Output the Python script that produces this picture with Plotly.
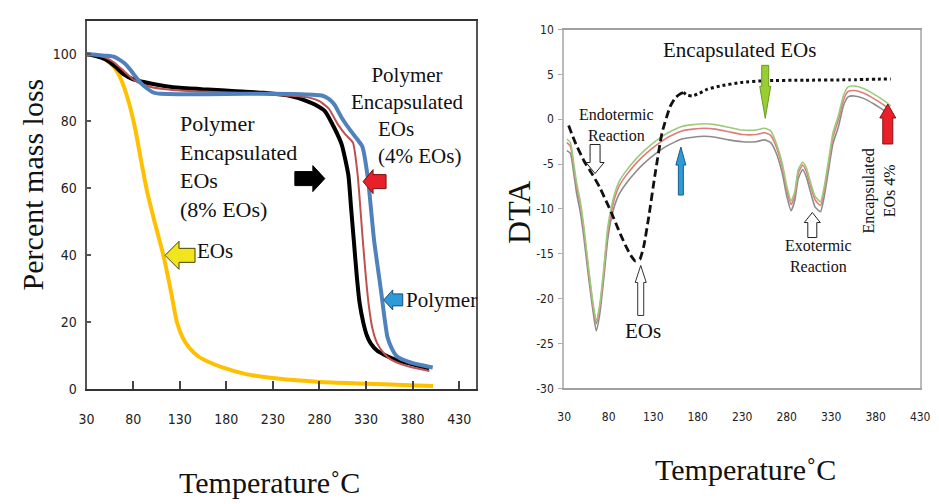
import plotly.graph_objects as go

# The page body adds an 8px margin, so the figure is drawn 8px smaller than the window
W, H = 931, 496
OFF = 8

# ---------------- Left panel (TGA) data ----------------
tga_xticks = [30, 80, 130, 180, 230, 280, 330, 380, 430]
tga_yticks = [0, 20, 40, 60, 80, 100]

eos_T = [30, 40, 50, 60, 67, 75, 82, 88, 95, 103, 112, 120, 127, 133, 140, 150, 160, 175, 200, 235, 280, 330, 370, 402]
eos_v = [100, 99.6, 98.5, 96, 92.5, 86, 78, 69, 59, 50, 40.5, 30, 20, 15.5, 12.5, 9.8, 8.3, 6.6, 4.6, 3.2, 2.2, 1.7, 1.3, 1.0]

enc8_T = [30, 40, 50, 60, 70, 80, 90, 100, 115, 130, 160, 190, 220, 250, 265, 275, 286, 296, 304, 311, 314, 317, 320, 323, 327, 331, 335, 342, 349, 360, 374, 386, 398]
enc8_v = [100, 99.5, 98.5, 96.5, 94, 92.5, 91.8, 91.2, 90.5, 90, 89.5, 89, 88.5, 87.5, 86.2, 85, 83, 78, 73, 64, 54, 44, 34, 26, 20, 16, 13.7, 11.5, 10.4, 9, 7.9, 7.0, 6.2]

enc4_T = [30, 40, 50, 60, 70, 80, 90, 100, 115, 130, 160, 190, 220, 250, 270, 280, 290, 300, 308, 316, 321, 326.5, 330, 333, 337, 342, 349, 356, 370, 385, 398]
enc4_v = [100, 99.7, 99, 97.5, 95, 92.5, 91, 90.2, 89.6, 89.2, 88.8, 88.5, 88.1, 87.6, 87, 86, 83.8, 79, 76, 73.6, 64, 44.6, 33, 25, 18, 13.7, 10.8, 9, 7.3, 6.2, 5.5]

poly_T = [30, 40, 50, 60, 70, 77, 82, 88, 95, 101.6, 110, 130, 160, 200, 230, 260, 282.6, 290, 296, 304, 314, 321, 326, 332, 338.6, 345.8, 353, 358, 363, 375, 390, 401.6]
poly_v = [100, 99.9, 99.6, 99.2, 97.5, 95.4, 93.5, 91.5, 89.8, 88.6, 88.2, 88.1, 88.1, 88.2, 88.2, 88.1, 87.7, 86.7, 85, 81, 77, 74.5, 72.5, 63, 44.6, 30, 15.6, 12, 9.9, 8.3, 7.2, 6.5]

# ---------------- Right panel (DTA) data ----------------
dta_xticks = [30, 80, 130, 180, 230, 280, 330, 380, 430]
dta_yticks = [-30, -25, -20, -15, -10, -5, 0, 5, 10]
dta_yticklabels = ["-30", "-25", "-20", "-15", "-10", "-5", "0", "5", "10"]

eos_dash_T = [35, 42, 52, 62, 70, 77, 83, 88, 94, 99, 105, 110, 115, 119.5, 125, 132, 140, 149, 155, 160, 164]
eos_dash_v = [-0.7, -2.5, -4.6, -6.2, -7.6, -9.1, -10.4, -11.6, -13.0, -14.1, -15.2, -15.8, -15.6, -14.1, -10.9, -6.2, -1.5, 1.4, 2.4, 2.8, 3.0]
eos_dot_T = [164, 168, 174, 182, 191, 205, 228, 257, 300, 350, 397]
eos_dot_v = [3.0, 2.7, 2.6, 2.9, 3.35, 3.7, 4.1, 4.3, 4.35, 4.4, 4.5]

dta_T = [33, 37, 41, 44, 48, 52, 57, 62, 66, 70, 74, 79, 83, 87, 92, 100, 110, 120, 132, 145,
         162, 175, 187, 200, 215, 230, 246, 255, 262, 268, 275, 280, 285, 289, 293, 298, 302, 307, 312, 318,
         322, 327, 332, 338, 344, 349, 356, 367, 378, 389, 397]
dta_red = [-2.6, -3.0, -5.5, -7.5, -9.5, -12.3, -16.6, -20.5, -22.8, -21.0, -17.5, -12.5, -10.3, -8.7, -7.4, -6.2, -5.0, -4.0, -3.0, -2.1,
           -1.3, -1.1, -1.0, -1.1, -1.4, -1.7, -1.7, -1.5, -1.8, -3.0, -5.3, -7.8, -9.5, -8.5, -6.0, -5.1, -5.8, -7.5, -9.0, -9.6,
           -8.0, -5.0, -2.0, -0.1, 2.2, 3.1, 3.2, 2.9, 2.3, 1.6, 1.0]
dta_green = [-2.2, -2.6, -5.1, -7.1, -9.1, -11.9, -16.2, -20.2, -22.5, -20.6, -17.1, -12.0, -9.8, -8.2, -6.9, -5.7, -4.5, -3.5, -2.5, -1.6,
             -0.8, -0.6, -0.5, -0.6, -0.9, -1.2, -1.2, -1.0, -1.3, -2.6, -4.9, -7.4, -9.1, -8.1, -5.6, -4.8, -5.4, -7.1, -8.6, -9.2,
             -7.6, -4.6, -1.5, 0.4, 2.7, 3.6, 3.7, 3.4, 2.8, 2.1, 1.5]
dta_gray = [-3.5, -3.8, -6.2, -8.3, -10.3, -13.1, -17.3, -21.1, -23.6, -21.7, -18.2, -13.3, -11.0, -9.5, -8.3, -7.1, -5.9, -4.9, -3.9, -3.0,
            -2.2, -2.0, -1.9, -2.0, -2.3, -2.5, -2.5, -2.3, -2.6, -3.7, -6.0, -8.5, -10.2, -9.1, -6.6, -5.6, -6.4, -8.2, -9.8, -10.3,
            -8.7, -5.7, -2.7, -0.9, 1.6, 2.5, 2.6, 2.3, 1.7, 1.0, 0.6]

SERIF = "Liberation Serif, Times New Roman, serif"
NARROW = "Liberation Sans Narrow, DejaVu Sans Condensed, Liberation Sans, sans-serif"


def PX(page_x):
    return (page_x - OFF) / W


def PY(page_y):
    return 1 - (page_y - OFF) / H


fig = go.Figure()

# left traces
fig.add_trace(go.Scatter(x=eos_T, y=eos_v, mode="lines", line=dict(color="#FFC000", width=4, shape="spline", smoothing=0.6),
                         xaxis="x", yaxis="y", showlegend=False))
fig.add_trace(go.Scatter(x=enc8_T, y=enc8_v, mode="lines", line=dict(color="#000000", width=4, shape="spline", smoothing=0.5),
                         xaxis="x", yaxis="y", showlegend=False))
fig.add_trace(go.Scatter(x=enc4_T, y=enc4_v, mode="lines", line=dict(color="#C0504D", width=2, shape="spline", smoothing=0.5),
                         xaxis="x", yaxis="y", showlegend=False))
fig.add_trace(go.Scatter(x=poly_T, y=poly_v, mode="lines", line=dict(color="#4F81BD", width=4, shape="spline", smoothing=0.5),
                         xaxis="x", yaxis="y", showlegend=False))

# right traces
fig.add_trace(go.Scatter(x=dta_T, y=dta_gray, mode="lines", line=dict(color="#8C8C8C", width=1.6, shape="spline", smoothing=0.5),
                         xaxis="x2", yaxis="y2", showlegend=False))
fig.add_trace(go.Scatter(x=dta_T, y=dta_red, mode="lines", line=dict(color="#E07C7C", width=1.6, shape="spline", smoothing=0.5),
                         xaxis="x2", yaxis="y2", showlegend=False))
fig.add_trace(go.Scatter(x=dta_T, y=dta_green, mode="lines", line=dict(color="#9CCB7C", width=1.6, shape="spline", smoothing=0.5),
                         xaxis="x2", yaxis="y2", showlegend=False))
fig.add_trace(go.Scatter(x=eos_dash_T, y=eos_dash_v, mode="lines", line=dict(color="#111111", width=2.8, dash="8px,4px", shape="spline", smoothing=0.5),
                         xaxis="x2", yaxis="y2", showlegend=False))
fig.add_trace(go.Scatter(x=eos_dot_T, y=eos_dot_v, mode="lines", line=dict(color="#111111", width=3, dash="3px,3px", shape="spline", smoothing=0.5),
                         xaxis="x2", yaxis="y2", showlegend=False))

# ---------------- block arrows ----------------
shapes = []


def block_arrow(xref, yref, tx, ty, direction, length, head_len, head_half, shaft_half, fill, line="#222222", lw=1):
    pts = [(-length, -shaft_half), (-head_len, -shaft_half), (-head_len, -head_half), (0, 0),
           (-head_len, head_half), (-head_len, shaft_half), (-length, shaft_half)]
    out = []
    for x, y in pts:
        if direction == "right":
            p = (x, y)
        elif direction == "left":
            p = (-x, y)
        elif direction == "up":      # pixel y grows upward: shaft below the tip
            p = (y, x)
        else:                        # down
            p = (y, -x)
        out.append(p)
    path = "M" + " L".join(f"{p[0]:.1f},{p[1]:.1f}" for p in out) + " Z"
    shapes.append(dict(type="path", xref=xref, yref=yref, xsizemode="pixel", ysizemode="pixel",
                       xanchor=tx, yanchor=ty, path=path, fillcolor=fill,
                       line=dict(color=line, width=lw), layer="above"))


# left panel arrows
block_arrow("x", "y", 285.8, 62.9, "right", 30, 12, 13, 7, "#000000", "#000000")
block_arrow("x", "y", 326.8, 62.0, "left", 23, 10, 12, 7, "#E8202A", "#7A1010")
block_arrow("x", "y", 114.2, 40.0, "left", 30, 14, 14, 7, "#F2E51E", "#444400")
block_arrow("x", "y", 349.0, 26.7, "left", 19, 9, 10, 6, "#2E9AD8", "#1A4E7A")
# right panel arrows
block_arrow("x2", "y2", 64.7, -6.05, "down", 29, 11, 9, 5, "#FFFFFF", "#222222")
block_arrow("x2", "y2", 161.1, -3.1, "up", 48, 18, 5, 2.5, "#2E9AD8", "#1A5E90")
block_arrow("x2", "y2", 255.9, 0.1, "down", 53, 32, 5.5, 3.5, "#9ACD32", "#6A9A20")
block_arrow("x2", "y2", 393.6, 1.7, "up", 40, 14, 8, 5, "#E8202A", "#8A1010")
block_arrow("x2", "y2", 116.0, -16.3, "up", 50, 17, 5.5, 3, "#FFFFFF", "#333333")
block_arrow("x2", "y2", 308.8, -10.4, "up", 25, 10, 8, 4.5, "#FFFFFF", "#222222")

# ---------------- annotations ----------------
ann = []


def txt(text, x, y, xref, yref, size, xanchor="center", yanchor="middle", align="center", angle=0):
    ann.append(dict(text=text, x=x, y=y, xref=xref, yref=yref, showarrow=False,
                    font=dict(family=SERIF, size=size, color="#111111"),
                    xanchor=xanchor, yanchor=yanchor, align=align, textangle=angle))


# left panel texts
txt("Polymer<br>Encapsulated<br>EOs<br>(8% EOs)", 128.0, 66.4, "x", "y", 22, xanchor="left", align="left")
txt("Polymer<br>Encapsulated", 374.2, 89.9, "x", "y", 21)
txt("EOs<br>(4% EOs)", 340.5, 73.6, "x", "y", 21, xanchor="left", align="left")
txt("EOs", 146.8, 41.2, "x", "y", 21, xanchor="left")
txt("Polymer", 371.0, 26.7, "x", "y", 21, xanchor="left")
# right panel texts
txt("Encapsulated EOs", 227.2, 7.68, "x2", "y2", 21)
txt("Endotermic<br>Reaction", 88.4, -0.65, "x2", "y2", 16)
txt("Exotermic<br>Reaction", 316.0, -15.3, "x2", "y2", 16)
txt("EOs", 118.7, -23.6, "x2", "y2", 21)
txt("Encapsulated<br>EOs 4%", 384.3, -8.0, "x2", "y2", 16, angle=-90)
# axis titles
txt("Percent mass loss", PX(25), PY(183), "paper", "paper", 30, angle=-90)
txt("Temperature˚C", PX(266.5), PY(490), "paper", "paper", 30)
txt("DTA", PX(521), PY(212), "paper", "paper", 32, angle=-90)
txt("Temperature˚C", PX(752), PY(477), "paper", "paper", 30)

fig.update_layout(
    width=W, height=H, autosize=False,
    margin=dict(l=0, r=0, t=0, b=0),
    paper_bgcolor="white", plot_bgcolor="white",
    shapes=shapes, annotations=ann,
    xaxis=dict(domain=[PX(80), PX(477)], range=[30, 448], tickvals=tga_xticks, ticktext=[str(t) for t in tga_xticks],
               showgrid=False, zeroline=False, showline=True, linecolor="#333333", linewidth=2, mirror=True,
               ticks="inside", ticklen=8, tickwidth=1.5, tickcolor="#444444", ticklabelstandoff=16,
               tickfont=dict(family=NARROW, size=14, color="#222222"), anchor="y"),
    yaxis=dict(domain=[PY(394), PY(14)], range=[0, 110], tickvals=tga_yticks,
               showgrid=False, zeroline=False, showline=True, linecolor="#555555", linewidth=2, mirror=True,
               ticks="inside", ticklen=4, tickwidth=1.5, tickcolor="#555555", ticklabelstandoff=5,
               tickfont=dict(family=NARROW, size=14, color="#222222"), anchor="x"),
    xaxis2=dict(domain=[PX(567), PX(930)], range=[30, 430], tickvals=dta_xticks,
                showgrid=False, zeroline=False, showline=True, linecolor="#A0A0A0", linewidth=2, mirror=True,
                ticks="", ticklabelstandoff=16, ticklabeloverflow="allow",
                tickfont=dict(family=NARROW, size=12, color="#222222"), anchor="y2"),
    yaxis2=dict(domain=[PY(393), PY(23)], range=[-30, 10], tickvals=dta_yticks, ticktext=dta_yticklabels,
                showgrid=False, zeroline=False, showline=True, linecolor="#BBBBBB", linewidth=2, mirror=True,
                ticks="outside", ticklen=4, tickwidth=1, tickcolor="#AAAAAA", ticklabelstandoff=2,
                tickfont=dict(family=NARROW, size=12, color="#222222"), anchor="x2"),
)

fig.write_html("out.html")
